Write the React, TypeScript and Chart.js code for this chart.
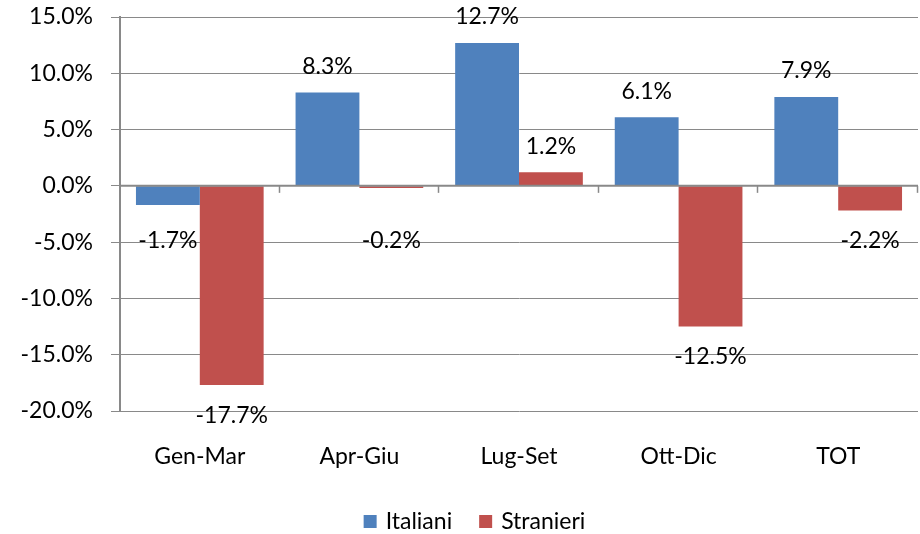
import React, { useEffect, useRef } from "react";
import { Chart, registerables } from "chart.js";

Chart.register(...registerables);

const categories = ["Gen-Mar", "Apr-Giu", "Lug-Set", "Ott-Dic", "TOT"];
const italiani = [-1.7, 8.3, 12.7, 6.1, 7.9];
const stranieri = [-17.7, -0.2, 1.2, -12.5, -2.2];
const seriesNames = ["Italiani", "Stranieri"];
const seriesColors = ["#4F81BD", "#C0504D"];
const yMin = -20;
const yMax = 15;
const yStep = 5;

const FONT = "Lato, 'DejaVu Sans', sans-serif";
const GRID = "#898989";

const fmt = (v: number) => v.toFixed(1) + "%";

const overlayPlugin = {
  id: "overlay",
  afterDatasetsDraw(chart: any) {
    const ctx = chart.ctx;
    const area = chart.chartArea;
    const y = chart.scales.y;
    const zeroY = y.getPixelForValue(0);
    ctx.save();
    ctx.strokeStyle = GRID;
    ctx.lineWidth = 2;
    ctx.beginPath();
    ctx.moveTo(area.left, zeroY);
    ctx.lineTo(area.right, zeroY);
    ctx.stroke();
    const n = categories.length;
    const w = (area.right - area.left) / n;
    ctx.lineWidth = 1.5;
    for (let i = 1; i <= n; i++) {
      const x = Math.round(area.left + i * w) - 0.5;
      ctx.beginPath();
      ctx.moveTo(x, zeroY);
      ctx.lineTo(x, zeroY + 7);
      ctx.stroke();
    }
    ctx.fillStyle = "#000";
    ctx.font = `23px ${FONT}`;
    ctx.textAlign = "center";
    ctx.textBaseline = "middle";
    chart.data.datasets.forEach((ds: any, di: number) => {
      const meta = chart.getDatasetMeta(di);
      meta.data.forEach((el: any, i: number) => {
        const v = ds.data[i];
        let ly;
        if (v >= 0) ly = el.y - 26;
        else ly = Math.max(el.y + 30, zeroY + 55);
        ctx.fillText(fmt(v), el.x, ly);
      });
    });
    ctx.restore();
  },
  afterDraw(chart: any) {
    const ctx = chart.ctx;
    ctx.save();
    ctx.font = `23px ${FONT}`;
    ctx.textBaseline = "middle";
    ctx.textAlign = "left";
    const box = 13;
    const gap = 9;
    const spacing = 27;
    const widths = seriesNames.map((s) => ctx.measureText(s).width);
    const total = widths.reduce((a, b) => a + b, 0) + seriesNames.length * (box + gap) + spacing * (seriesNames.length - 1);
    let x = 474.5 - total / 2;
    const cy = 521.5;
    seriesNames.forEach((s, i) => {
      ctx.fillStyle = seriesColors[i];
      ctx.fillRect(x, cy - box / 2, box, box);
      x += box + gap;
      ctx.fillStyle = "#000";
      ctx.fillText(s, x, cy);
      x += widths[i] + spacing;
    });
    ctx.restore();
  },
};

export default function App() {
  const ref = useRef<HTMLCanvasElement | null>(null);
  useEffect(() => {
    if (!ref.current) return;
    const chart = new Chart(ref.current, {
      type: "bar",
      data: {
        labels: categories,
        datasets: [
          { label: seriesNames[0], data: italiani, backgroundColor: seriesColors[0], categoryPercentage: 0.8, barPercentage: 1.0 },
          { label: seriesNames[1], data: stranieri, backgroundColor: seriesColors[1], categoryPercentage: 0.8, barPercentage: 1.0 },
        ],
      },
      options: {
        responsive: false,
        animation: false,
        layout: { padding: { top: 17, right: 2, left: 0, bottom: 0 } },
        plugins: { legend: { display: false }, tooltip: { enabled: false } },
        scales: {
          x: {
            grid: { display: false, drawTicks: false },
            border: { display: false },
            ticks: { color: "#000", font: { family: FONT, size: 23 }, padding: 32, maxRotation: 0 },
            afterFit: (s: any) => { s.height = 123; s.paddingLeft = 0; s.paddingRight = 0; },
          },
          y: {
            min: yMin,
            max: yMax,
            grid: { color: GRID, lineWidth: 1, tickLength: 9, tickColor: GRID },
            border: { color: GRID, width: 2 },
            ticks: { stepSize: yStep, color: "#000", font: { family: FONT, size: 23 }, padding: 18, callback: (v: any) => fmt(Number(v)) },
            afterFit: (s: any) => { s.width = 120; s.paddingTop = 0; s.paddingBottom = 0; },
          },
        },
      },
      plugins: [overlayPlugin],
    });
    return () => chart.destroy();
  }, []);
  return (
    <div style={{ position: "absolute", left: 0, top: 0, width: 920, height: 534, background: "#fff" }}>
      <canvas ref={ref} width={920} height={534} style={{ display: "block" }} />
    </div>
  );
}
